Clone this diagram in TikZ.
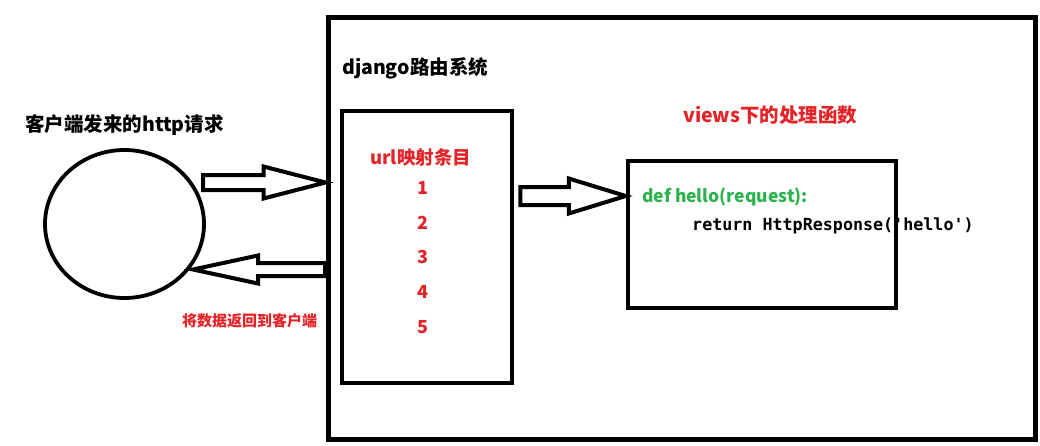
\documentclass[tikz,border=0pt]{standalone}
\usepackage{fontspec}
\setmainfont{Noto Sans CJK SC}
\newfontfamily\cjk{Noto Sans CJK SC}
\newfontfamily\codemono{DejaVu Sans Mono}
\usetikzlibrary{calc,shapes.geometric}
\definecolor{hired}{RGB}{228,35,40}
\definecolor{hgreen}{RGB}{45,178,80}
\tikzset{
  x=1pt, y=-1pt,
  framebox/.style={draw=black, line width=5pt, inner sep=0pt, fill=none},
  innerbox/.style={draw=black, line width=4.5pt, inner sep=0pt},
  clientcircle/.style={draw=black, line width=3.8pt, ellipse, inner sep=0pt, minimum width=159pt, minimum height=148pt},
  blk/.style={draw=black, line width=4pt, line join=miter, fill=white},
  lbl/.style={inner sep=0pt, anchor=west, font=\cjk\bfseries\fontsize{19.5}{20}\selectfont},
  redlbl/.style={lbl, text=hired},
  numlbl/.style={inner sep=0pt, text=hired, font=\cjk\bfseries\fontsize{18}{18}\selectfont},
}
% #1 tail, #2 tip, #3 shaft half-width, #4 head half-width, #5 signed head length
\newcommand\blockarrowdraw[5]{%
  \draw[blk] ($(#1)+(0,-#3)$) -- ($(#2)+(-#5,-#3)$) -- ($(#2)+(-#5,-#4)$) -- (#2)
    -- ($(#2)+(-#5,#4)$) -- ($(#2)+(-#5,#3)$) -- ($(#1)+(0,#3)$) -- cycle;}
\begin{document}
\begin{tikzpicture}
\useasboundingbox (0,0) rectangle (1040,445);
\fill[white] (0,0) rectangle (1040,445);

% boxes
\node[framebox, minimum width=707pt, minimum height=422pt] (outer) at (681.5,228) {};
\node[innerbox, minimum width=170pt, minimum height=272pt] (urls) at (427,247) {};
\node[innerbox, minimum width=268pt, minimum height=147pt] (views) at (762,234.5) {};
\node[clientcircle] (client) at (124.5,224) {};

% labels
\node[lbl] (clienttitle) at (25,125) {客户端发来的http请求};
\node[lbl] (djangotitle) at (342,68) {django路由系统};
\node[redlbl] (viewstitle) at (683,115) {views下的处理函数};
\node[redlbl, font=\cjk\bfseries\fontsize{18.5}{19}\selectfont] (urltitle) at (370,157) {url映射条目};
\node[numlbl] (n1) at (423,188) {1};
\node[numlbl] (n2) at (423,223) {2};
\node[numlbl] (n3) at (423,257) {3};
\node[numlbl] (n4) at (423,292) {4};
\node[numlbl] (n5) at (423,327) {5};
\node[redlbl, font=\cjk\bfseries\fontsize{15}{15}\selectfont] (backlbl) at (182,321) {将数据返回到客户端};
\node[lbl, text=hgreen, font=\cjk\bfseries\fontsize{17.5}{18}\selectfont] (defline) at (642,197) {def hello(request):};
\node[lbl, font=\codemono\bfseries\fontsize{16.7}{17}\selectfont] (retline) at (692,226) {return HttpResponse('hello')};

% arrow end points
\coordinate (a1tail) at (203,182.5);
\coordinate (a1tip) at (outer.west |- 0,182.5);
\coordinate (a2tail) at (325,269.5);
\coordinate (a2tip) at (193,269.5);
\coordinate (a3tail) at ($(urls.east |- 0,196)+(6,0)$);
\coordinate (a3tip) at (views.west |- 0,196);

\blockarrowdraw{a1tail}{a1tip}{7.5}{16}{62}
\blockarrowdraw{a2tail}{a2tip}{6.5}{14}{-65}
\blockarrowdraw{a3tail}{a3tip}{9}{17.5}{57}
\end{tikzpicture}
\end{document}
